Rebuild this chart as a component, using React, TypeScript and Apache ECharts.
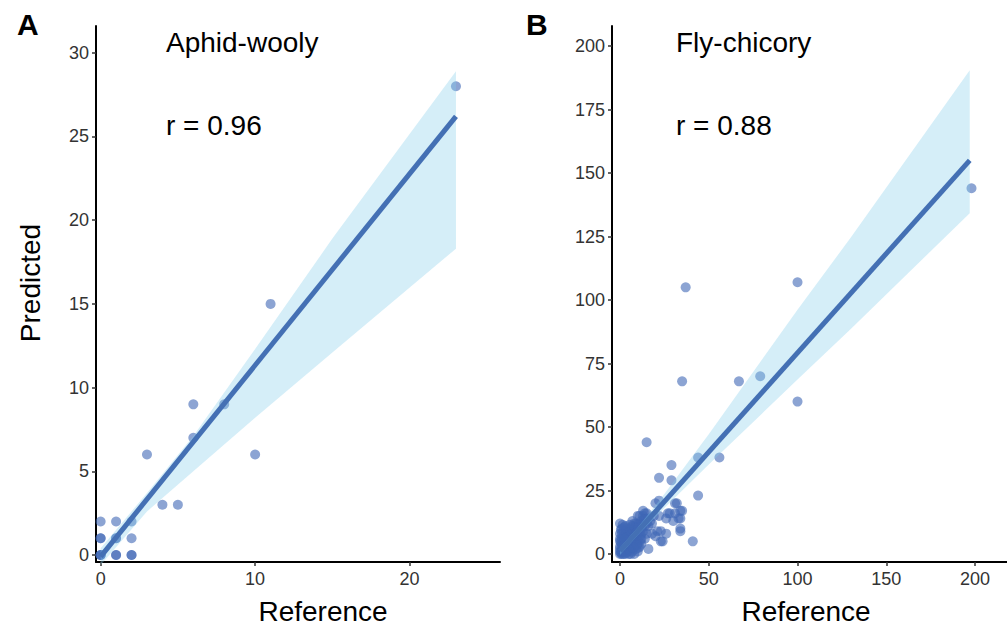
import React, { useEffect, useRef } from "react";
import * as echarts from "echarts";

// ---------- Data ----------
const aphidPoints: number[][] = [
  [23, 28], [11, 15], [6, 9], [8, 9], [6, 7], [3, 6], [10, 6], [4, 3], [5, 3],
  [0, 0], [0, 0], [0, 0], [0, 1], [0, 1], [0, 2], [1, 0], [1, 0], [1, 1], [1, 1],
  [1, 2], [2, 0], [2, 0], [2, 1], [2, 2],
];
const aphidFitLine: number[][] = [[0, -0.1], [23, 26.2]];
const aphidBandX = [0, 3, 6, 10, 15, 23];
const aphidBandUpper = [0.4, 3.7, 7.1, 12.3, 18.9, 28.9];
const aphidBandLower = [-0.6, 2.6, 5.0, 8.2, 12.1, 18.3];
const aphidXTicks = [0, 10, 20];
const aphidYTicks = [0, 5, 10, 15, 20, 25, 30];

const flyPoints: number[][] = [
  [198, 144], [100, 107], [37, 105], [35, 68], [67, 68], [79, 70], [100, 60], [15, 44],
  [44, 38], [56, 38], [29, 35], [22, 30], [29, 29], [44, 23], [20, 20], [22, 21], [32, 20],
  [31, 20], [34, 17], [35, 17], [31, 16], [27, 16], [22, 15], [13, 17], [10, 15], [11, 15],
  [14, 16], [33, 14], [34, 14], [30, 13], [26, 14], [28, 16], [34, 10], [34, 9], [41, 5],
  [24, 5], [23, 5], [16, 2], [20, 7], [18, 8], [21, 9], [26, 8], [23, 9], [0, 12], [7, 13],
  [0, 0], [1, 0], [2, 0], [3, 0], [0, 1], [1, 1], [2, 1], [4, 1], [5, 0], [6, 0], [0, 2],
  [1, 2], [2, 2], [3, 3], [5, 2], [6, 2], [7, 1], [8, 0], [0, 3], [1, 4], [2, 4], [4, 4],
  [5, 5], [3, 6], [6, 5], [7, 4], [8, 3], [9, 2], [10, 1], [0, 5], [1, 6], [2, 7], [4, 7],
  [6, 7], [7, 8], [8, 6], [9, 5], [10, 4], [11, 3], [12, 6], [0, 8], [2, 9], [4, 10], [5, 9],
  [6, 10], [8, 9], [9, 10], [10, 8], [11, 9], [12, 10], [13, 12], [14, 11], [3, 11], [1, 10],
  [7, 11], [9, 12], [11, 12], [12, 13], [14, 14], [15, 12], [16, 11], [13, 9], [15, 8],
  [14, 6], [12, 4], [10, 6], [3, 2], [4, 3], [6, 3], [2, 5], [5, 7], [0, 6], [1, 8], [8, 12],
  [13, 15], [15, 16], [16, 14], [17, 13], [18, 12], [19, 15],
  [0.5, 0.5], [1.5, 1.5], [2.5, 3.5], [3.5, 4.5], [4.5, 5.5], [5.5, 6.5], [6.5, 8.5],
  [7.5, 9.5], [8.5, 10.5], [9.5, 11.5], [3.5, 8.5], [5.5, 11.5], [2.5, 10.5], [0.5, 9.5],
  [1.5, 11.5], [4.5, 2.5], [6.5, 4.5], [7.5, 6.5], [8.5, 7.5], [9.5, 8.5], [10.5, 10.5],
  [11.5, 7.5], [12.5, 8.5], [10.5, 2.5], [11.5, 5.5], [13.5, 13.5], [12.5, 11.5],
  [3.5, 0.5], [5.5, 1.5], [7.5, 2.5], [9.5, 3.5], [0.5, 4.5], [1.5, 3], [2.5, 6],
];
const flyFitLine: number[][] = [[0, 1.1], [197, 155]];
const flyBandX = [0, 10, 25, 50, 100, 130, 197];
const flyBandUpper = [2.6, 10.4, 23.6, 47.2, 96.2, 124.6, 190.5];
const flyBandLower = [-0.4, 7.4, 18.1, 35.2, 68.7, 88.6, 134.2];
const flyXTicks = [0, 50, 100, 150, 200];
const flyYTicks = [0, 25, 50, 75, 100, 125, 150, 175, 200];

// ---------- Styles ----------
const FONT = "Liberation Sans, Arial, sans-serif";
const POINT_COLOR = "rgba(63,104,181,0.75)";
const LINE_COLOR = "#4470b4";
const BAND_FILL = "rgba(135,206,235,0.35)";

function makeAxis(kind: "x" | "y", idx: number, min: number, max: number, ticks: number[]) {
  return {
    type: "value",
    gridIndex: idx,
    min,
    max,
    splitLine: { show: false },
    axisLine: { show: true, onZero: false, lineStyle: { color: "#000", width: 2 } },
    axisTick: {
      show: true,
      length: 4,
      inside: false,
      customValues: ticks,
      lineStyle: { color: "#333", width: 1.5 },
    },
    axisLabel: {
      show: true,
      customValues: ticks,
      color: "#333",
      fontSize: 18,
      fontFamily: FONT,
      margin: kind === "x" ? 8 : 7,
    },
  };
}

function bandRender(xs: number[], lo: number[], hi: number[]) {
  return (_params: any, api: any) => {
    const pts: number[][] = [];
    for (let i = 0; i < xs.length; i++) pts.push(api.coord([xs[i], hi[i]]));
    for (let i = xs.length - 1; i >= 0; i--) pts.push(api.coord([xs[i], lo[i]]));
    return {
      type: "polygon",
      shape: { points: pts },
      style: { fill: BAND_FILL },
    };
  };
}

function txt(text: string, x: number, y: number, size: number, opts: any = {}) {
  return {
    type: "text",
    x,
    y,
    rotation: opts.rotation || 0,
    style: {
      text,
      fontSize: size,
      fontFamily: FONT,
      fontWeight: opts.bold ? "bold" : "normal",
      fill: "#000",
      align: opts.align || "left",
      verticalAlign: "middle",
    },
  };
}

export default function App() {
  const ref = useRef<HTMLDivElement>(null);
  useEffect(() => {
    if (!ref.current) return;
    const chart = echarts.init(ref.current, undefined, { renderer: "svg" });
    chart.setOption({
      animation: false,
      backgroundColor: "#fff",
      grid: [
        { left: 96, top: 26, width: 404, height: 536 },
        { left: 612, top: 26, width: 395, height: 536 },
      ],
      xAxis: [
        makeAxis("x", 0, -0.3, 25.85, aphidXTicks),
        makeAxis("x", 1, -4.5, 218, flyXTicks),
      ],
      yAxis: [
        makeAxis("y", 0, -0.42, 31.6, aphidYTicks),
        makeAxis("y", 1, -3.15, 207.9, flyYTicks),
      ],
      series: [
        {
          type: "scatter",
          xAxisIndex: 0,
          yAxisIndex: 0,
          data: aphidPoints,
          symbolSize: 10,
          itemStyle: { color: POINT_COLOR },
          z: 1,
        },
        {
          type: "custom",
          xAxisIndex: 0,
          yAxisIndex: 0,
          data: [[aphidBandX[0], aphidBandLower[0]]],
          renderItem: bandRender(aphidBandX, aphidBandLower, aphidBandUpper),
          z: 2,
          silent: true,
        },
        {
          type: "line",
          xAxisIndex: 0,
          yAxisIndex: 0,
          data: aphidFitLine,
          symbol: "none",
          lineStyle: { color: LINE_COLOR, width: 5 },
          z: 3,
        },
        {
          type: "scatter",
          xAxisIndex: 1,
          yAxisIndex: 1,
          data: flyPoints,
          symbolSize: 10,
          itemStyle: { color: POINT_COLOR },
          z: 1,
        },
        {
          type: "custom",
          xAxisIndex: 1,
          yAxisIndex: 1,
          data: [[flyBandX[0], flyBandLower[0]]],
          renderItem: bandRender(flyBandX, flyBandLower, flyBandUpper),
          z: 2,
          silent: true,
        },
        {
          type: "line",
          xAxisIndex: 1,
          yAxisIndex: 1,
          data: flyFitLine,
          symbol: "none",
          lineStyle: { color: LINE_COLOR, width: 5 },
          z: 3,
        },
      ],
      graphic: [
        txt("A", 17, 24, 30, { bold: true }),
        txt("B", 526, 24, 30, { bold: true }),
        txt("Aphid-wooly", 166, 42, 28),
        txt("r = 0.96", 166, 125, 28),
        txt("Fly-chicory", 676, 42, 28),
        txt("r = 0.88", 676, 125, 28),
        txt("Predicted", 30, 283, 28, { rotation: Math.PI / 2, align: "center" }),
        txt("Reference", 323, 611, 28, { align: "center" }),
        txt("Reference", 806, 611, 28, { align: "center" }),
      ],
    });
    return () => chart.dispose();
  }, []);
  return <div ref={ref} style={{ width: 1007, height: 629, position: "absolute", left: 0, top: 0 }} />;
}
